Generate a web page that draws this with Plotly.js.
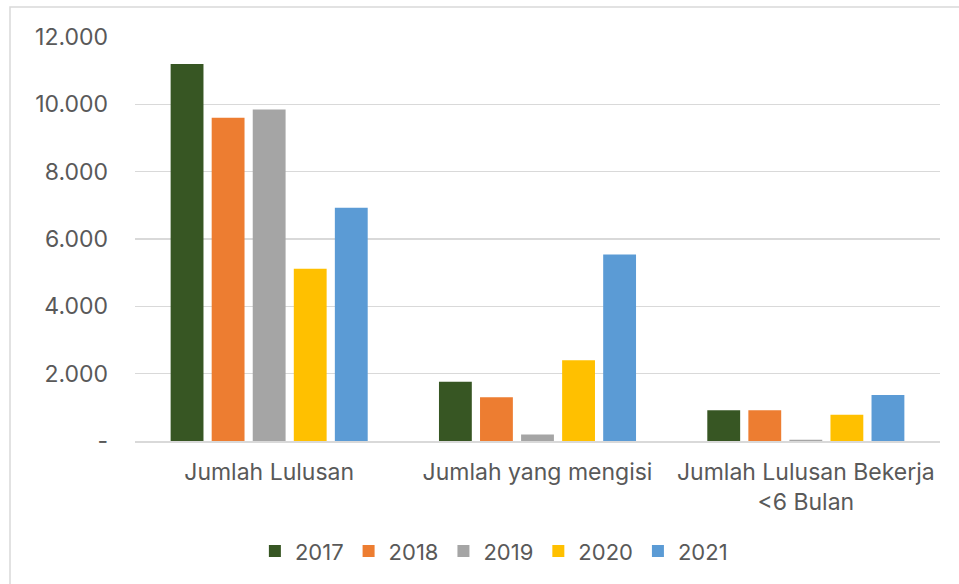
<!DOCTYPE html>
<html>
<head>
<meta charset="utf-8">
<script src="https://cdn.plot.ly/plotly-3.0.1.min.js"></script>
<style>html,body{margin:0;padding:0;background:#fff;}#chart{width:959px;height:584px;}</style>
</head>
<body>
<div id="chart"></div>
<script>
const categories = ["Jumlah Lulusan", "Jumlah yang mengisi", "Jumlah Lulusan Bekerja<br>&lt;6 Bulan"];
const years = ["2017", "2018", "2019", "2020", "2021"];
const v2017 = [11200, 1760, 910];
const v2018 = [9600, 1300, 910];
const v2019 = [9850, 190, 40];
const v2020 = [5120, 2400, 780];
const v2021 = [6930, 5540, 1370];
const colors = ["#375623", "#ED7D31", "#A5A5A5", "#FFC000", "#5B9BD5"];
const yTickVals = [0, 2000, 4000, 6000, 8000, 10000, 12000];
const yTickText = ["-", "2.000", "4.000", "6.000", "8.000", "10.000", "12.000"];

const series = [v2017, v2018, v2019, v2020, v2021];
const FONT = "Inter, 'Open Sans', sans-serif";
const traces = series.map((vals, i) => ({
  type: "bar",
  name: years[i],
  x: categories,
  y: vals,
  marker: {color: colors[i]},
  hoverinfo: "none"
}));

const layout = {
  width: 959, height: 584,
  margin: {l: 135, r: 19, t: 37, b: 143},
  paper_bgcolor: "#fff", plot_bgcolor: "#fff",
  barmode: "group", bargap: 0.235, bargroupgap: 0.2,
  font: {family: FONT, size: 23, color: "#595959"},
  xaxis: {
    showgrid: false, showline: true, linecolor: "#d9d9d9", linewidth: 1.5,
    ticks: "", tickfont: {family: FONT, size: 23, color: "#595959"},
    ticklabelstandoff: 10
  },
  yaxis: {
    range: [0, 12000], tickvals: yTickVals, ticktext: yTickText,
    showgrid: true, gridcolor: "#d9d9d9", gridwidth: 1.5,
    zeroline: false, showline: false, ticks: "",
    tickfont: {family: FONT, size: 23, color: "#595959"},
    ticklabelstandoff: 26
  },
  legend: {
    orientation: "h", xref: "container", yref: "container",
    x: 0.515, xanchor: "center", y: 0.056, yanchor: "middle",
    font: {family: FONT, size: 22, color: "#595959"},
    itemwidth: 30, traceorder: "normal"
  },
  shapes: [{
    type: "rect", xref: "paper", yref: "paper",
    x0: -125/805, x1: 40/805 + 1, y0: -0.5, y1: 434/404,
    line: {color: "#d9d9d9", width: 1.5}, fillcolor: "rgba(0,0,0,0)", layer: "below"
  }],
  showlegend: true
};

Plotly.newPlot("chart", traces, layout, {displayModeBar: false, staticPlot: true});
</script>
</body>
</html>
